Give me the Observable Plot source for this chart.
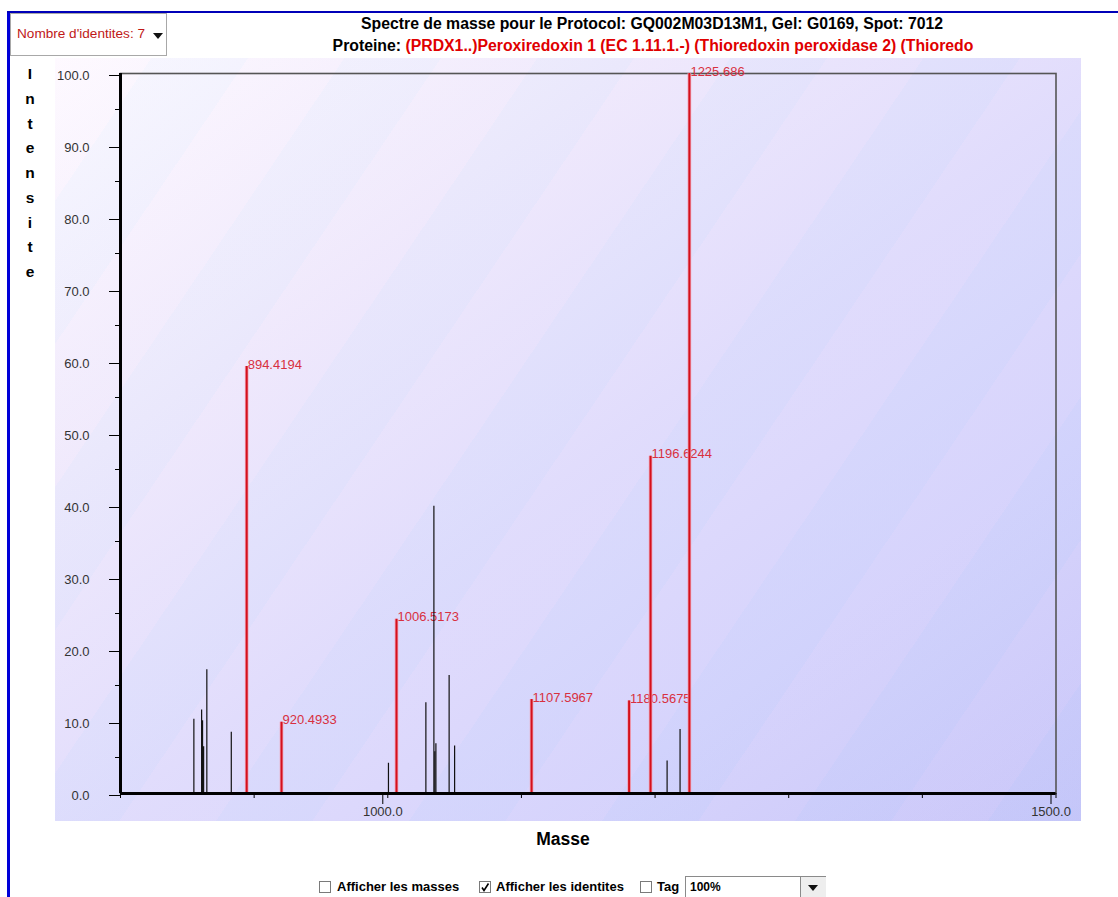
<!DOCTYPE html>
<html><head><meta charset="utf-8">
<script src="https://cdn.jsdelivr.net/npm/d3@7"></script>
<script src="https://cdn.jsdelivr.net/npm/@observablehq/plot@0.6"></script>
<style>
body{margin:0;background:#fff;font-family:"Liberation Sans",Arial,sans-serif;}
#wrap{position:relative;width:1118px;height:897px;overflow:hidden;background:#fff;}
.bl{position:absolute;left:7px;top:11px;width:3px;height:900px;background:#0000d8;}
.bt{position:absolute;left:7px;top:11px;width:1111px;height:2px;background:#0000b8;}
#panel{position:absolute;left:55px;top:58px;width:1026px;height:763px;
 background:
  repeating-linear-gradient(124deg, rgba(255,225,255,0.10) 0px, rgba(255,225,255,0.10) 80px, rgba(200,215,255,0.10) 80px, rgba(200,215,255,0.10) 160px),
  linear-gradient(to bottom right, #fefcff 0%, #eeeafc 28%, #dedcfc 52%, #d2d2fc 75%, #c4c4f8 100%);}
#chart{position:absolute;left:0;top:0;}
.abs{position:absolute;white-space:nowrap;}
#dd{left:10px;top:13px;width:157px;height:43px;border:1px solid #a8a8a8;background:#fff;box-sizing:border-box;}
#dd .t{position:absolute;left:6px;top:12px;font-size:13.6px;color:#c01818;}
#dd .tri{position:absolute;left:142px;top:19px;width:0;height:0;border-left:5.5px solid transparent;border-right:5.5px solid transparent;border-top:6px solid #111;}
.title{font-weight:bold;font-size:15.8px;color:#000;transform:translateX(-50%);}
#ylab{left:22px;top:62px;width:16px;text-align:center;font-weight:bold;font-size:15.5px;line-height:24.75px;}
#xlab{left:563px;top:829px;font-weight:bold;font-size:17.5px;transform:translateX(-50%);}
.cb{position:absolute;top:881px;width:12px;height:12px;border:1px solid #7a7a7a;background:#fff;box-sizing:border-box;}
.ct{position:absolute;top:879px;font-weight:bold;font-size:13px;white-space:nowrap;}
#combo{left:685px;top:876px;width:141px;height:26px;border:1px solid #8a8a8a;background:#fff;box-sizing:border-box;}
#combo .v{position:absolute;left:4px;top:3px;font-weight:bold;font-size:12px;}
#combo .btn{position:absolute;left:114px;top:0;width:25px;height:26px;border-left:1px solid #8a8a8a;background:#eeeeee;}
#combo .btn .tri{position:absolute;left:7px;top:8px;width:0;height:0;border-left:5.5px solid transparent;border-right:5.5px solid transparent;border-top:6px solid #111;}
</style></head>
<body><div id="wrap">
<div id="panel"></div>
<div class="bl"></div><div class="bt"></div>
<div id="chart"></div>
<div id="dd" class="abs"><span class="t">Nombre d'identites: 7</span><span class="tri"></span></div>
<div class="abs title" style="left:652px;top:15px;">Spectre de masse pour le Protocol: GQ002M03D13M1, Gel: G0169, Spot: 7012</div>
<div class="abs title" style="left:653px;top:37px;">Proteine: <span style="color:#e00000">(PRDX1..)Peroxiredoxin 1 (EC 1.11.1.-) (Thioredoxin peroxidase 2) (Thioredo</span></div>
<div id="ylab" class="abs">I<br>n<br>t<br>e<br>n<br>s<br>i<br>t<br>e</div>
<div id="xlab" class="abs">Masse</div>
<div class="cb" style="left:319px"></div><div class="ct" style="left:337px">Afficher les masses</div>
<div class="cb" style="left:479px"><svg width="10" height="10" style="position:absolute;left:0;top:0"><polyline points="2,5.5 4,8.5 8.5,1.5" fill="none" stroke="#000" stroke-width="1.6"/></svg></div><div class="ct" style="left:496px">Afficher les identites</div>
<div class="cb" style="left:640px"></div><div class="ct" style="left:657px">Tag</div>
<div id="combo" class="abs"><span class="v">100%</span><div class="btn"><span class="tri"></span></div></div>
</div>
<script>
// Unidentified peaks (black)
const otherMass = [854.9, 860.7, 861.4, 862.2, 864.6, 882.9, 1000.5, 1028.5, 1034.5, 1035.2, 1036.0, 1045.9, 1050.0, 1209.0, 1218.7];
const otherIntensity = [10.3, 11.6, 10.1, 6.5, 17.2, 8.5, 4.2, 12.6, 39.9, 5.8, 6.9, 16.4, 6.6, 4.5, 8.9];
// Identified peaks (red)
const idMass = [894.4194, 920.4933, 1006.5173, 1107.5967, 1180.5675, 1196.6244, 1225.686];
const idIntensity = [59.3, 9.9, 24.2, 13.05, 12.86, 46.85, 100];
const idLabels = ["894.4194", "920.4933", "1006.5173", "1107.5967", "1180.5675", "1196.6244", "1225.686"];
// Ticks
const xTicks = [800, 900, 1000, 1100, 1200, 1300, 1400, 1500];
const xLabelTicks = [1000, 1500];
const yTicks = [0, 10, 20, 30, 40, 50, 60, 70, 80, 90, 100];
const yMinorTicks = [5, 15, 25, 35, 45, 55, 65, 75, 85, 95];

const others = otherMass.map((m, i) => ({mass: m, intensity: otherIntensity[i]}));
const ids = idMass.map((m, i) => ({mass: m, intensity: idIntensity[i], label: idLabels[i]}));

const chart = Plot.plot({
  width: 1118, height: 897,
  marginLeft: 120, marginRight: 62.5, marginTop: 73, marginBottom: 104,
  style: {background: "transparent", fontFamily: "Liberation Sans, Arial, sans-serif", overflow: "visible"},
  x: {domain: [800, 1500], label: null},
  y: {domain: [0, 100], label: null},
  marks: [
    Plot.frame({stroke: "#555", strokeWidth: 1.6}),
    Plot.axisY({ticks: yMinorTicks, tickSize: 5, tickFormat: () => "", label: null, stroke: "#000"}),
    Plot.axisY({ticks: yTicks, tickSize: 11, tickPadding: 20, tickFormat: d => d.toFixed(1), fontSize: 13, fill: "#333", stroke: "#000", label: null, dy: 2}),
    Plot.axisX({ticks: xTicks, tickSize: 5, tickFormat: () => "", label: null, stroke: "#000"}),
    Plot.axisX({ticks: xLabelTicks, tickSize: 11, tickPadding: 2, tickFormat: d => d.toFixed(1), fontSize: 13, fill: "#333", stroke: "#000", label: null, dx: -5}),
    Plot.text(ids, {x: "mass", y: "intensity", text: "label", textAnchor: "start", lineAnchor: "bottom", dx: 1, dy: 2, fill: "#d83040", fontSize: 13}),
    Plot.ruleX(others, {x: "mass", y1: 0, y2: "intensity", stroke: "#111", strokeWidth: 1.2}),
    Plot.ruleX(ids, {x: "mass", y1: 0, y2: "intensity", stroke: "#f0a0b4", strokeWidth: 3.6}),
    Plot.ruleX(ids, {x: "mass", y1: 0, y2: "intensity", stroke: "#d4101c", strokeWidth: 2}),
    Plot.ruleX([800], {stroke: "#000", strokeWidth: 3}),
    Plot.ruleY([0], {stroke: "#000", strokeWidth: 3})
  ]
});
document.getElementById("chart").appendChild(chart);
</script>
</body></html>
